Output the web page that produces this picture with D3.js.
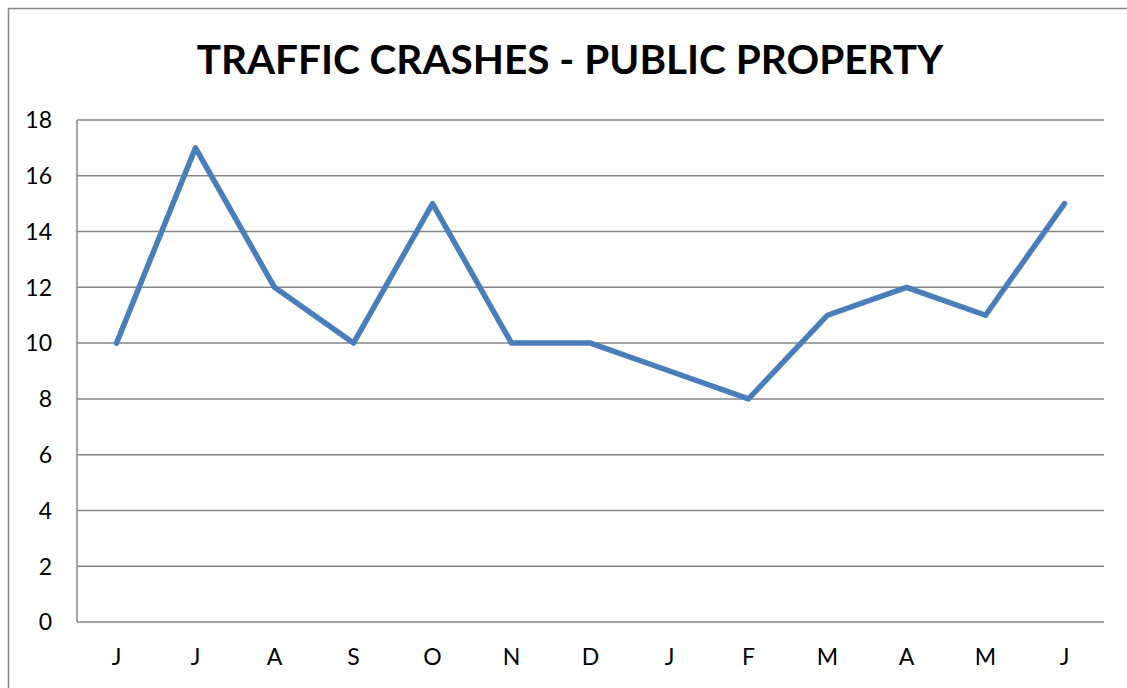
<!DOCTYPE html>
<meta charset="utf-8">
<head>
	<title>Traffic Crashes - Public Property</title>
	<script type="text/javascript" src="https://cdn.jsdelivr.net/npm/d3@7"></script>
	<style>
		body { margin: 0; background: #fff; }
		text { font-family: Lato, "Open Sans", sans-serif; }
	</style>
</head>
<body>
	<div id="chart"></div>
	<script>
		// chart data
		const months = ["J", "J", "A", "S", "O", "N", "D", "J", "F", "M", "A", "M", "J"];
		const crashes = [10, 17, 12, 10, 15, 10, 10, 9, 8, 11, 12, 11, 15];
		const yTicks = [0, 2, 4, 6, 8, 10, 12, 14, 16, 18];

		const width = 1127;
		const height = 688;
		const plot = { left: 77, right: 1104, top: 120, bottom: 622 };

		const svg = d3.select("#chart")
			.append("svg")
			.attr("width", width)
			.attr("height", height);

		// outer chart border (runs off the right/bottom edge)
		svg.append("rect")
			.attr("x", 8.5).attr("y", 8.5)
			.attr("width", width + 20).attr("height", height + 20)
			.attr("fill", "none")
			.attr("stroke", "#868686")
			.attr("stroke-width", 1.5);

		// title
		svg.append("text")
			.attr("x", 570)
			.attr("y", 74)
			.attr("text-anchor", "middle")
			.attr("font-size", "40.5px")
			.attr("font-weight", "bold")
			.attr("fill", "#000")
			.text("TRAFFIC CRASHES - PUBLIC PROPERTY");

		var x = d3.scaleBand()
			.domain(d3.range(months.length))
			.range([plot.left, plot.right]);

		var y = d3.scaleLinear()
			.domain([0, 18])
			.range([plot.bottom, plot.top]);

		// gridlines
		svg.append("g")
			.selectAll("line")
			.data(yTicks)
			.enter().append("line")
			.attr("x1", plot.left).attr("x2", plot.right)
			.attr("y1", d => y(d)).attr("y2", d => y(d))
			.attr("stroke", "#868686")
			.attr("stroke-width", 1.5);

		// left axis line
		svg.append("line")
			.attr("x1", plot.left).attr("x2", plot.left)
			.attr("y1", plot.top).attr("y2", plot.bottom)
			.attr("stroke", "#868686")
			.attr("stroke-width", 1.5);

		// y tick labels
		svg.append("g")
			.selectAll("text")
			.data(yTicks)
			.enter().append("text")
			.attr("x", 52)
			.attr("y", d => y(d))
			.attr("dy", "0.36em")
			.attr("text-anchor", "end")
			.attr("font-size", "23px")
			.attr("fill", "#000")
			.text(d => d);

		// x tick labels
		svg.append("g")
			.selectAll("text")
			.data(months)
			.enter().append("text")
			.attr("x", (d, i) => x(i) + x.bandwidth() / 2)
			.attr("y", 665)
			.attr("text-anchor", "middle")
			.attr("font-size", "23px")
			.attr("fill", "#000")
			.text(d => d);

		// the series line
		var line = d3.line()
			.x((d, i) => x(i) + x.bandwidth() / 2)
			.y(d => y(d));

		svg.append("path")
			.datum(crashes)
			.attr("d", line)
			.attr("fill", "none")
			.attr("stroke", "#4a7ebb")
			.attr("stroke-width", 5.5)
			.attr("stroke-linejoin", "round")
			.attr("stroke-linecap", "round");
	</script>
</body>
</html>
